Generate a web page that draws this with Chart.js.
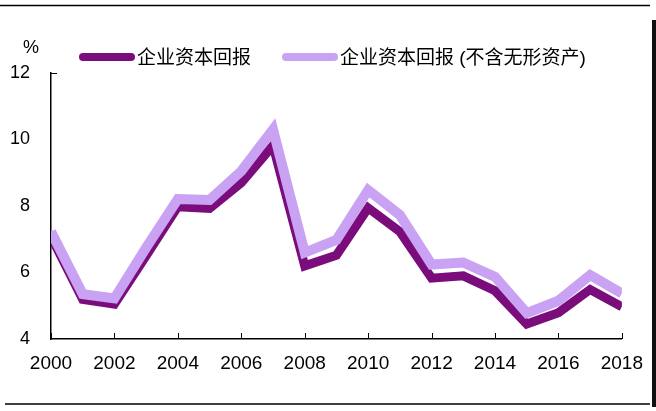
<!DOCTYPE html>
<html>
<head>
<meta charset="utf-8">
<script src="https://cdn.jsdelivr.net/npm/chart.js@4"></script>
<style>
  html, body { margin: 0; padding: 0; background: #fff; }
  #wrap { width: 656px; height: 411px; position: relative; }
</style>
</head>
<body>
<div id="wrap"><canvas id="returnChart"></canvas></div>
<script>
const years = [2000, 2001, 2002, 2003, 2004, 2005, 2006, 2007, 2008, 2009,
               2010, 2011, 2012, 2013, 2014, 2015, 2016, 2017, 2018];
const capitalReturn = [7.08, 5.19, 5.05, 6.5, 7.98, 7.93, 8.7, 9.82, 6.2, 6.52,
                       7.94, 7.23, 5.83, 5.9, 5.45, 4.45, 4.79, 5.49, 4.97];
const capitalReturnExIntangible = [7.23, 5.35, 5.22, 6.75, 8.21, 8.18, 9.05, 10.3, 6.6, 6.98,
                                   8.48, 7.73, 6.24, 6.3, 5.87, 4.78, 5.15, 5.92, 5.37];
const seriesNames = ['企业资本回报', '企业资本回报 (不含无形资产)'];
const xTicks = [2000, 2002, 2004, 2006, 2008, 2010, 2012, 2014, 2016, 2018];
const yTicks = [4, 6, 8, 10, 12];

const DARK = '#7b0c7c';
const LIGHT = '#c9a2f3';
const FONT = "'Liberation Sans', 'Noto Sans CJK SC', Arial, sans-serif";

// legend, % label, frame lines and the inward x ticks
const decorPlugin = {
    id: 'decor',
    afterDraw(chart) {
        const ctx = chart.ctx;
        const x = chart.scales.x, y = chart.scales.y;
        ctx.save();

        ctx.strokeStyle = '#000';
        ctx.lineWidth = 1.5;
        ctx.beginPath();
        ctx.moveTo(0, 5.5); ctx.lineTo(650, 5.5);
        ctx.moveTo(5, 404); ctx.lineTo(650, 404);
        ctx.stroke();
        ctx.fillStyle = '#111';
        ctx.fillRect(652, 20, 4, 387);

        // ticks pointing into the plot
        ctx.lineWidth = 1;
        ctx.beginPath();
        xTicks.forEach(function (v) {
            const px = Math.round(x.getPixelForValue(v)) + 0.5;
            ctx.moveTo(px, y.bottom);
            ctx.lineTo(px, y.bottom - 6);
        });
        const top = Math.round(y.getPixelForValue(12)) + 0.5;
        ctx.moveTo(x.left, top);
        ctx.lineTo(x.left + 6, top);
        ctx.stroke();

        ctx.fillStyle = '#000';
        ctx.font = '18px ' + FONT;
        ctx.textAlign = 'center';
        ctx.textBaseline = 'middle';
        ctx.fillText('%', 31, 48);

        // legend
        const items = [
            { color: DARK, x: 80, label: seriesNames[0] },
            { color: LIGHT, x: 283, label: seriesNames[1] }
        ];
        ctx.font = '19px ' + FONT;
        ctx.textAlign = 'left';
        items.forEach(function (it) {
            ctx.strokeStyle = it.color;
            ctx.lineWidth = 8;
            ctx.lineCap = 'round';
            ctx.beginPath();
            ctx.moveTo(it.x + 3, 57);
            ctx.lineTo(it.x + 51, 57);
            ctx.stroke();
            ctx.fillStyle = '#000';
            ctx.fillText(it.label, it.x + 57, 59);
        });
        ctx.restore();
    }
};

const ctx = document.getElementById('returnChart').getContext('2d');
new Chart(ctx, {
    type: 'line',
    data: {
        datasets: [{
            label: seriesNames[0],
            data: years.map((yr, i) => ({ x: yr, y: capitalReturn[i] })),
            borderColor: DARK,
            backgroundColor: DARK,
            borderWidth: 9,
            borderJoinStyle: 'miter',
            pointRadius: 0,
            tension: 0,
            order: 1
        }, {
            label: seriesNames[1],
            data: years.map((yr, i) => ({ x: yr, y: capitalReturnExIntangible[i] })),
            borderColor: LIGHT,
            backgroundColor: LIGHT,
            borderWidth: 10,
            borderJoinStyle: 'miter',
            pointRadius: 0,
            tension: 0,
            order: 0
        }]
    },
    options: {
        responsive: true,
        maintainAspectRatio: false,
        animation: false,
        devicePixelRatio: 1,
        layout: { padding: { top: 73, right: 29, bottom: 0, left: 0 } },
        plugins: {
            legend: { display: false },
            tooltip: { enabled: false }
        },
        scales: {
            x: {
                type: 'linear',
                min: 2000,
                max: 2018,
                afterBuildTicks: function (scale) {
                    scale.ticks = xTicks.map(v => ({ value: v }));
                },
                grid: { display: false, drawTicks: false },
                border: { display: true, color: '#000', width: 1.5 },
                ticks: {
                    color: '#000',
                    padding: 13,
                    font: { family: FONT, size: 19 },
                    maxRotation: 0,
                    callback: v => String(v)
                },
                afterFit: function (scale) { scale.height = 72; }
            },
            y: {
                min: 4,
                max: 12,
                afterBuildTicks: function (scale) {
                    scale.ticks = yTicks.map(v => ({ value: v }));
                },
                grid: { display: false, drawTicks: false },
                border: { display: true, color: '#000', width: 1.5 },
                ticks: {
                    color: '#000',
                    padding: 21,
                    font: { family: FONT, size: 18 }
                },
                afterFit: function (scale) { scale.width = 51; }
            }
        }
    },
    plugins: [decorPlugin]
});
</script>
</body>
</html>
